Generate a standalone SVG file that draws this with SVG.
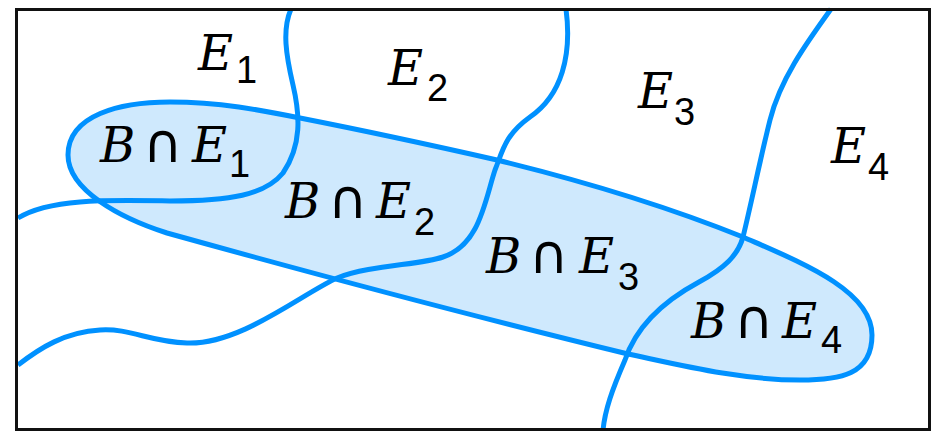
<svg xmlns="http://www.w3.org/2000/svg" width="933" height="433" viewBox="0 0 933 433">
<style>
.blob{fill:#cfe9fd;stroke:#0091ff;stroke-width:5;stroke-linejoin:round}
.curve{fill:none;stroke:#0091ff;stroke-width:5;stroke-linecap:butt}
.lbl{fill:#000}
.it{font-family:"DejaVu Serif",serif;font-style:italic;font-size:48px}
.sub{font-family:"Liberation Sans",sans-serif;font-size:38px}
.op{font-family:"DejaVu Sans",sans-serif;font-size:54px}
</style>
<rect x="0" y="0" width="933" height="433" fill="#fff"/>
<g id="B">
<path class="blob" d="M 68,155 C 68,115 120,102 170,102 C 220,102 260,110 300,118 C 366,131 431,145 497,160 C 579,180 661,204 743,237 C 800,262 872,290 872,335 C 872,375 840,380 800,380 C 740,380 680,365 628,354 C 480,318 300,270 167,233 C 120,218 68,190 68,155 Z"/>
</g>
<g id="connectors">
<path id="b12" class="curve" d="M 291,9 C 282,30 286,55 293,85 C 300,115 302,145 283,173 C 265,195 230,201 170,201 C 110,200 50,198 18,218"/>
<path id="b23" class="curve" d="M 566,9 C 572,55 562,95 530,117 C 505,135 503,150 495,170 C 485,200 480,245 443,257 C 420,265 370,265 337,278 C 300,295 240,345 187,343 C 150,342 130,328 100,330 C 65,332 40,348 18,365"/>
<path id="b34" class="curve" d="M 831,9 C 805,45 780,80 770,120 C 760,160 752,200 743,237 C 738,255 725,268 699,282 C 660,303 635,330 625,360 C 612,390 605,410 603,430"/>
</g>
<rect x="16.5" y="9.5" width="913" height="420" fill="none" stroke="#111" stroke-width="3"/>
<g id="E1" class="lbl"><text class="it" x="198" y="70">E</text><text class="sub" x="236" y="83">1</text></g>
<g id="E2" class="lbl"><text class="it" x="388" y="85">E</text><text class="sub" x="427" y="101">2</text></g>
<g id="E3" class="lbl"><text class="it" x="638" y="108">E</text><text class="sub" x="674" y="125">3</text></g>
<g id="E4" class="lbl"><text class="it" x="831" y="163">E</text><text class="sub" x="868" y="180">4</text></g>
<g id="BE1" class="lbl"><text class="it" x="100" y="162">B</text><text class="op" x="143" y="162">∩</text><text class="it" x="192" y="162">E</text><text class="sub" x="229" y="177">1</text></g>
<g id="BE2" class="lbl"><text class="it" x="285" y="218">B</text><text class="op" x="328" y="218">∩</text><text class="it" x="376" y="218">E</text><text class="sub" x="414" y="235">2</text></g>
<g id="BE3" class="lbl"><text class="it" x="486" y="273">B</text><text class="op" x="529" y="273">∩</text><text class="it" x="579" y="273">E</text><text class="sub" x="618" y="290">3</text></g>
<g id="BE4" class="lbl"><text class="it" x="691" y="338">B</text><text class="op" x="734" y="338">∩</text><text class="it" x="782" y="338">E</text><text class="sub" x="821" y="353">4</text></g>
</svg>
